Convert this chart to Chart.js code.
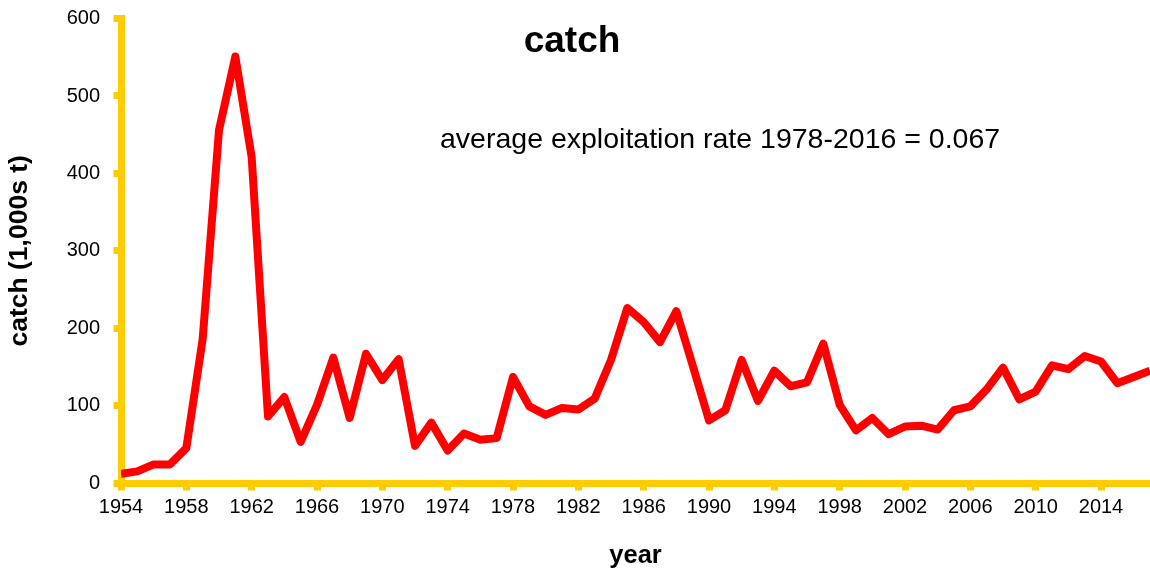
<!DOCTYPE html>
<html>
<head>
<meta charset="utf-8">
<script src="https://cdn.jsdelivr.net/npm/chart.js@4"></script>
<style>
  html, body { margin: 0; padding: 0; background: #fff; }
  #wrap { width: 1150px; height: 573px; position: relative; }
</style>
</head>
<body>
<div id="wrap"><canvas id="c" width="1150" height="573"></canvas></div>
<script>
const years = [1954,1955,1956,1957,1958,1959,1960,1961,1962,1963,1964,1965,1966,1967,1968,1969,
  1970,1971,1972,1973,1974,1975,1976,1977,1978,1979,1980,1981,1982,1983,1984,1985,1986,1987,1988,1989,
  1990,1991,1992,1993,1994,1995,1996,1997,1998,1999,2000,2001,2002,2003,2004,2005,2006,2007,2008,2009,
  2010,2011,2012,2013,2014,2015,2016,2017];
const catchValues = [12,15,24,24,45,186,456,551,421,86,111,53,101,162,84,167,
  133,160,48,78,42,64,56,58,137,99,88,97,95,109,159,226,208,182,222,152,
  81,94,159,106,145,125,130,180,101,68,84,63,73,74,69,94,99,121,149,108,
  118,152,147,164,157,129,137,145];
const xTickYears = [1954,1958,1962,1966,1970,1974,1978,1982,1986,1990,1994,1998,2002,2006,2010,2014];
const yTickValues = [0,100,200,300,400,500,600];
const chartTitle = 'catch';
const annotationText = 'average exploitation rate 1978-2016 = 0.067';
const xTitle = 'year';
const yTitle = 'catch (1,000s t)';

const YELLOW = '#FFCC00';
const FONT = "'Liberation Sans', Arial, sans-serif";

const textPlugin = {
  id: 'textPlugin',
  afterDraw(chart, args, opts) {
    const ctx = chart.ctx;
    ctx.save();
    ctx.fillStyle = '#000';
    ctx.textBaseline = 'middle';
    ctx.textAlign = 'center';
    ctx.font = 'bold 37px ' + FONT;
    ctx.fillText(chartTitle, opts.titleX, opts.titleY);
    ctx.textAlign = 'left';
    ctx.font = '28.5px ' + FONT;
    ctx.fillText(annotationText, opts.noteX, opts.noteY);
    ctx.restore();
  }
};

new Chart(document.getElementById('c'), {
  type: 'line',
  data: {
    datasets: [{
      data: years.map((y, i) => ({x: y, y: catchValues[i]})),
      borderColor: '#FF0000',
      borderWidth: 8,
      pointRadius: 0,
      tension: 0,
      borderJoinStyle: 'round',
      borderCapStyle: 'butt',
      fill: false
    }]
  },
  options: {
    responsive: false,
    animation: false,
    events: [],
    layout: { padding: { top: 18.6, right: 0, left: 0, bottom: 0 } },
    plugins: {
      legend: { display: false },
      tooltip: { enabled: false },
      title: { display: false },
      textPlugin: { titleX: 572, titleY: 42, noteX: 440, noteY: 140 }
    },
    scales: {
      x: {
        type: 'linear',
        min: 1954,
        max: 2017,
        afterBuildTicks: (s) => { s.ticks = xTickYears.map(v => ({value: v})); },
        afterFit: (s) => { s.height = 90; s.paddingRight = 0; s.paddingLeft = 0; },
        grid: { drawOnChartArea: false, drawTicks: true, tickLength: 7.5, tickWidth: 7, tickColor: YELLOW, color: YELLOW },
        border: { display: true, color: YELLOW, width: 7 },
        ticks: { color: '#000', font: { family: FONT, size: 20 }, padding: 5, maxRotation: 0, autoSkip: false,
                 callback: (v) => String(v) },
        title: { display: true, text: xTitle, color: '#000', font: { family: FONT, size: 25.5, weight: 'bold' },
                 padding: { top: 0, bottom: 2 } }
      },
      y: {
        min: 0,
        max: 600,
        afterBuildTicks: (s) => { s.ticks = yTickValues.map(v => ({value: v})); },
        afterFit: (s) => { s.width = 121; s.paddingTop = 0; s.paddingBottom = 0; },
        grid: { drawOnChartArea: false, drawTicks: true, tickLength: 7.5, tickWidth: 7, tickColor: YELLOW, color: YELLOW },
        border: { display: true, color: YELLOW, width: 7 },
        ticks: { color: '#000', font: { family: FONT, size: 20 }, padding: 13.5 },
        title: { display: true, text: yTitle, color: '#000', font: { family: FONT, size: 26.5, weight: 'bold' },
                 padding: { top: 4, bottom: 0 } }
      }
    }
  },
  plugins: [textPlugin]
});
</script>
</body>
</html>
